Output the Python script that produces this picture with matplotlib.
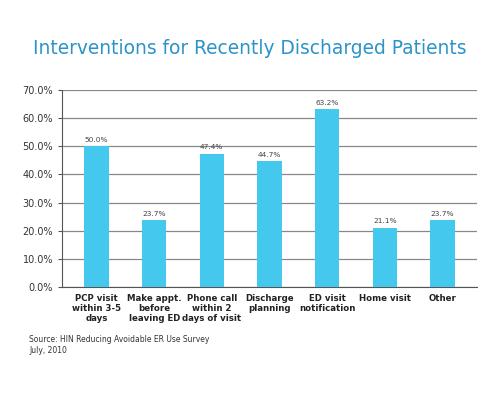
import matplotlib

matplotlib.use("Agg")
import matplotlib.pyplot as plt

categories = ["PCP visit\nwithin 3-5\ndays", "Make appt.\nbefore\nleaving ED",
              "Phone call\nwithin 2\ndays of visit", "Discharge\nplanning",
              "ED visit\nnotification", "Home visit", "Other"]
values = [50.0, 23.7, 47.4, 44.7, 63.2, 21.1, 23.7]
labels = ["50.0%", "23.7%", "47.4%", "44.7%", "63.2%", "21.1%", "23.7%"]
yticks = [0, 10, 20, 30, 40, 50, 60, 70]

BAR = "#45c8ee"

fig = plt.figure(figsize=(5.0, 4.05), dpi=100)
ax = fig.add_axes([0.124, 0.291, 0.83, 0.487])
x = range(len(categories))
ax.bar(x, values, width=0.42, color=BAR, zorder=3)
for xi, v, lab in zip(x, values, labels):
    ax.text(xi, v + 1.2, lab, ha="center", va="bottom", fontsize=5.3, color="#444444")

ax.set_ylim(0, 70)
ax.set_xlim(-0.6, len(categories) - 0.4)
ax.set_yticks(yticks)
ax.set_yticklabels([f"{t:.1f}%" for t in yticks], fontsize=7, color="#333333")
ax.set_xticks(list(x))
ax.set_xticklabels(categories, fontsize=6.2, fontweight="bold", color="#222222",
                   linespacing=1.15)
ax.tick_params(axis="x", length=0, pad=5)
ax.tick_params(axis="y", length=3, width=0.8, color="#555555")
ax.yaxis.grid(True, color="#888888", linewidth=0.9, zorder=0)
for s in ("top", "right"):
    ax.spines[s].set_visible(False)
ax.spines["left"].set_color("#555555")
ax.spines["bottom"].set_color("#555555")

fig.text(0.5, 0.88, "Interventions for Recently Discharged Patients",
         ha="center", va="center", fontsize=13.4, color="#2a93c9")
fig.text(0.058, 0.148, "Source: HIN Reducing Avoidable ER Use Survey\nJuly, 2010",
         ha="left", va="center", fontsize=5.5, color="#333333", linespacing=1.4)

fig.savefig("out.png", dpi=100)
